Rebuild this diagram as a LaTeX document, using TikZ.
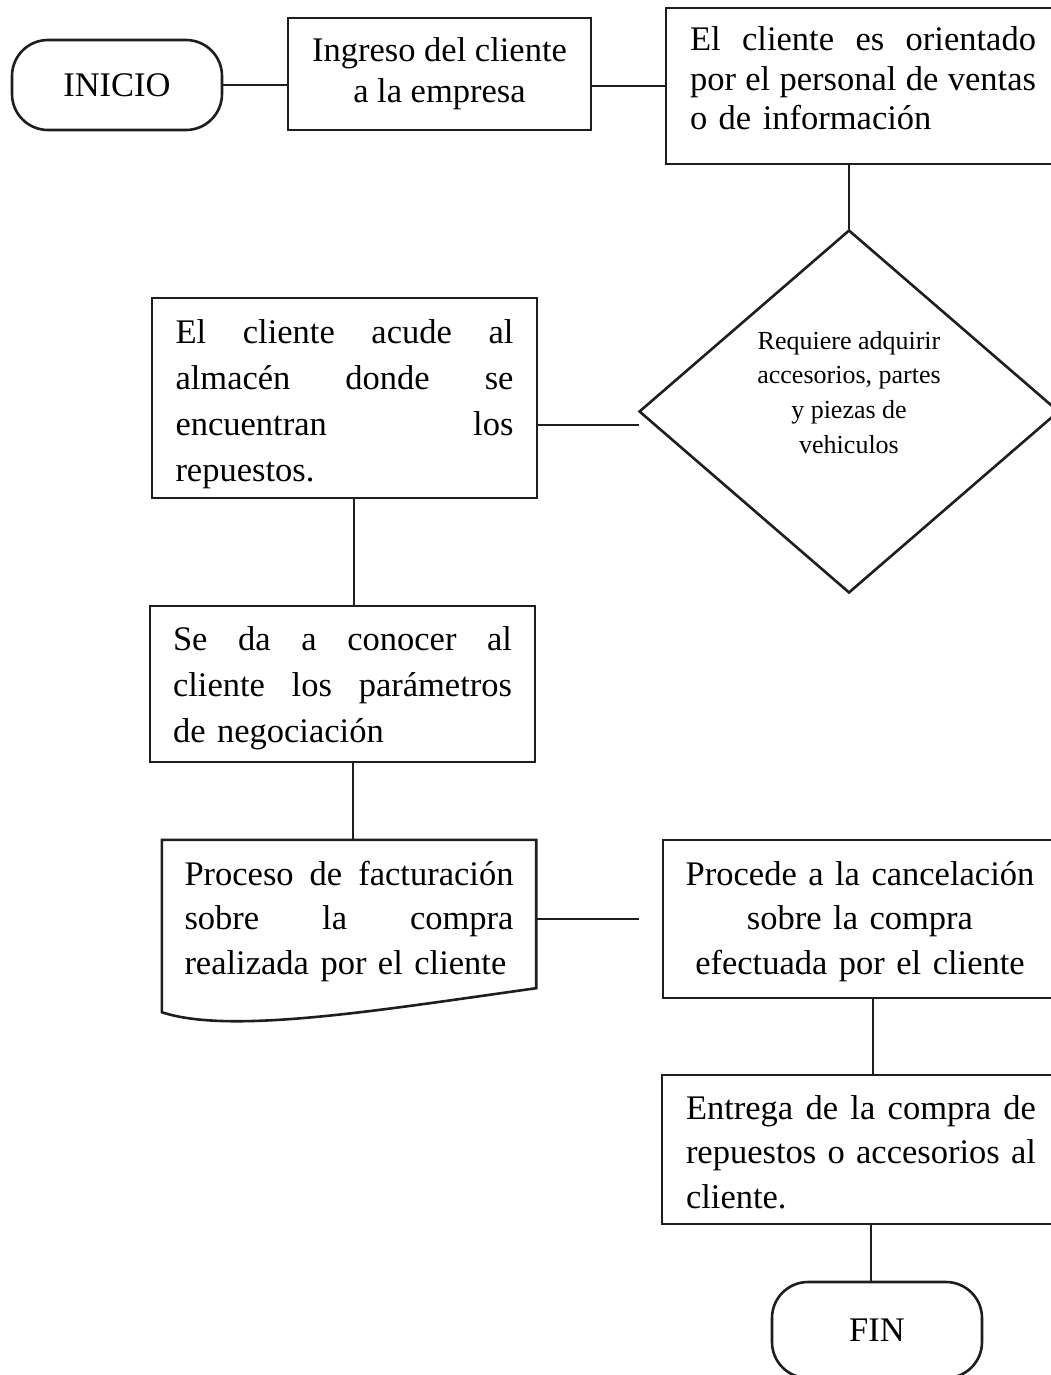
\documentclass[tikz,border=0pt]{standalone}
\usepackage{fontspec}
\setmainfont{Liberation Serif}
\usetikzlibrary{shapes.geometric}
\definecolor{ink}{HTML}{1E1E1E}
% one fully justified line of a given width (font spacing restored so it can stretch)
\newcommand\justline[2]{{\spaceskip=0pt\relax\xspaceskip=0pt\relax\makebox[#1][s]{#2}}}
% invisible struts on the first and last line: they fix the text block's extent,
% so the middle of the baselines sits #1 below the centre of the box
\newcommand\tops[1]{\rule{0pt}{\dimexpr28pt+#1\relax}}
\newcommand\bots[1]{\rule[\dimexpr#1-28pt\relax]{0pt}{\dimexpr28pt-#1\relax}}

\begin{document}
\begin{tikzpicture}[x=1pt,y=-1pt,
  flow/.style={draw=ink, line width=2.6pt, inner sep=0pt},
  procbox/.style={flow, rectangle},
  terminal/.style={flow, rectangle, rounded corners=36pt, minimum width=210pt},
  link/.style={draw=ink, line width=2.6pt},
  bigtext/.style={font=\fontsize{34.5pt}{#1}\selectfont},
]
\useasboundingbox (0,0) rectangle (1051,1375);
\fill[white] (0,0) rectangle (1051,1375);
\clip (0,0) rectangle (1051,1375);

% ---- shapes ----
\node[terminal, minimum height=90pt, bigtext=40pt] (inicio) at (117,85) {INICIO};

\node[procbox, minimum width=303pt, minimum height=112pt, bigtext=41pt, align=center]
  (ingreso) at (439.5,74)
  {\tops{8pt}Ingreso del cliente\\a la empresa\bots{8pt}};

\node[procbox, minimum width=394pt, minimum height=156pt, bigtext=39.5pt,
      text width=346pt, align=left]
  (orienta) at (863,86)
  {\tops{4.5pt}\justline{346pt}{El cliente es orientado}\\
   \justline{346pt}{por el personal de ventas}\\
   o de información\bots{4.5pt}};

\node[flow, diamond, minimum width=420pt, minimum height=363pt] (dia) at (849,411.5) {};
\node[font=\fontsize{26pt}{34.8pt}\selectfont, align=center, inner sep=0pt]
  (pregunta) at (849,401.2)
  {\tops{0pt}Requiere adquirir\\accesorios, partes\\y piezas de\\vehiculos\bots{0pt}};

\node[procbox, minimum width=385pt, minimum height=200pt, bigtext=46.3pt,
      text width=338pt, align=left]
  (almacen) at (344.5,398)
  {\tops{14.5pt}\justline{338pt}{El cliente acude al}\\
   \justline{338pt}{almacén donde se}\\
   \justline{338pt}{encuentran los}\\
   repuestos.\bots{14.5pt}};

\node[procbox, minimum width=385pt, minimum height=156pt, bigtext=46pt,
      text width=339pt, align=left]
  (param) at (342.5,684)
  {\tops{12.7pt}\justline{339pt}{Se da a conocer al}\\
   \justline{339pt}{cliente los parámetros}\\
   de negociación\bots{12.7pt}};

% document shape: text node plus wavy outline
\node[inner sep=0pt, minimum width=374pt, minimum height=160pt, bigtext=44.7pt,
      text width=329pt, align=left]
  (doc) at (349,920)
  {\tops{9.7pt}\justline{329pt}{Proceso de facturación}\\
   \justline{329pt}{sobre la compra}\\
   realizada por el cliente\bots{9.7pt}};
\draw[link] (doc.north west) -- (doc.north east) -- ([yshift=12pt]doc.south east)
  .. controls (380,1010) and (230,1035) .. ([yshift=-12pt]doc.south west) -- cycle;

\node[procbox, minimum width=394pt, minimum height=158pt, bigtext=44.7pt,
      text width=350pt, align=center]
  (cancela) at (860,919)
  {\tops{10.7pt}Procede a la cancelación\\sobre la compra\\efectuada por el cliente\bots{10.7pt}};

\node[procbox, minimum width=398pt, minimum height=149pt, bigtext=44.5pt,
      text width=350pt, align=left]
  (entrega) at (861,1149.5)
  {\tops{14.3pt}\justline{350pt}{Entrega de la compra de}\\
   \justline{350pt}{repuestos o accesorios al}\\
   cliente.\bots{14.3pt}};

\node[terminal, minimum height=96pt, bigtext=40pt] (fin) at (877,1330) {FIN};

% ---- connector anchors ----
\coordinate (j1) at (639,425);
\coordinate (j2) at (639,919);
\coordinate (v1) at (354,0);
\coordinate (v2) at (353,0);
\coordinate (v3) at (873,0);
\coordinate (v4) at (871,0);

% ---- connectors ----
\draw[link] (inicio.east) -- (inicio.east -| ingreso.west);
\draw[link] (ingreso.east |- orienta.west) -- (orienta.west);
\draw[link] (dia.north |- orienta.south) -- (dia.north);
\draw[link] (almacen.east |- j1) -- (j1);
\draw[link] (almacen.south -| v1) -- (param.north -| v1);
\draw[link] (param.south -| v2) -- (doc.north -| v2);
\draw[link] (doc.east |- j2) -- (j2);
\draw[link] (cancela.south -| v3) -- (entrega.north -| v3);
\draw[link] (entrega.south -| v4) -- (fin.north -| v4);
\end{tikzpicture}
\end{document}
